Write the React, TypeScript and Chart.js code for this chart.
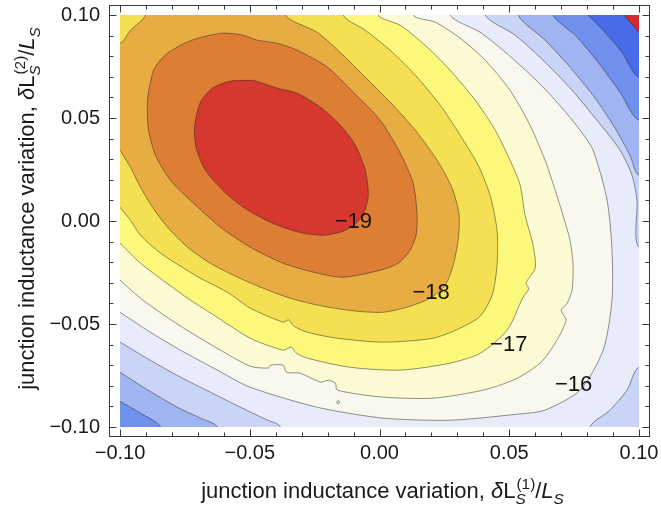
import React, { useEffect, useRef } from 'react';
import { Chart, registerables } from 'chart.js';

Chart.register(...registerables);

const FONT = '"Liberation Sans", Arial, Helvetica, sans-serif';
const E = 0.12; // beyond the plot range (clipped away)

const xTickValues = [-0.1, -0.05, 0, 0.05, 0.1];
const yTickValues = [-0.1, -0.05, 0, 0.05, 0.1];
const minorTickValues = [-0.1, -0.09, -0.08, -0.07, -0.06, -0.05, -0.04, -0.03, -0.02, -0.01, 0, 0.01, 0.02, 0.03, 0.04, 0.05, 0.06, 0.07, 0.08, 0.09, 0.1];

// contour levels, outermost first; each region is {f < level}
const contourLevels = [-14, -14.5, -15, -15.5, -16, -16.5, -17, -17.5, -18, -18.5, -19];
const bandColors = ['#7090ee', '#a0b4f2', '#c9d4f6', '#e8ecfa', '#f8f8ee', '#fbfad2', '#fcf87c', '#f4e052', '#e8ad42', '#de7e35', '#d5382f'];
const outerColor = '#4a6be8';
const cornerColor = '#d42b2b';

const regionM14 = [
  [0.0804, 0.100], [0.0869, 0.0916], [0.0935, 0.0819], [0.100, 0.0698],
  [E, 0.0698], [E, -E], [-E, -E], [-E, E], [0.0804, E]];

const regionM145 = [
  [-0.100, -0.0875], [-0.0921, -0.0933], [-0.0844, -0.100],
  [-0.0844, -E], [E, -E], [E, 0.0489],
  [0.100, 0.0489], [0.0927, 0.0625], [0.0842, 0.0771], [0.0754, 0.0902], [0.0669, 0.100],
  [0.0669, E], [-E, E], [-E, -0.0875]];

const regionM15 = [
  [-0.100, -0.0734], [-0.0910, -0.0807], [-0.0779, -0.0904], [-0.0690, -0.0957], [-0.0625, -0.100],
  [-0.0625, -E], [E, -E], [E, 0.0222],
  [0.100, 0.0222], [0.0965, 0.0319], [0.0908, 0.0450], [0.0831, 0.0596], [0.0734, 0.0747], [0.0638, 0.0878], [0.0534, 0.100],
  [0.0534, E], [-E, E], [-E, -0.0734]];

const regionM155 = [
  [-0.100, -0.0588], [-0.0883, -0.0676], [-0.0767, -0.0758], [-0.0652, -0.0831], [-0.0536, -0.0904], [-0.0440, -0.0962], [-0.0382, -0.100],
  [-0.0382, -E], [0.0811, -E],
  [0.0811, -0.100], [0.0888, -0.0918], [0.0954, -0.0821], [0.100, -0.0710],
  [E, -0.0710], [E, -0.0127],
  [0.100, -0.0127], [0.0992, 0.0101], [0.0973, 0.0222], [0.0927, 0.0344], [0.0838, 0.0489], [0.0742, 0.0635], [0.0638, 0.0771], [0.0523, 0.0902], [0.0407, 0.100],
  [0.0407, E], [-E, E], [-E, -0.0588]];

const regionM16 = [
  [-0.100, -0.0443], [-0.0883, -0.0540], [-0.0767, -0.0627], [-0.0632, -0.0719], [-0.0498, -0.0807], [-0.0240, -0.0904], [0.0014, -0.0957], [0.0272, -0.0967], [0.0530, -0.0938], [0.0638, -0.0918], [0.0773, -0.0821], [0.0862, -0.0627], [0.0896, -0.0384], [0.0896, -0.0142], [0.0877, 0.0101], [0.0823, 0.0344], [0.0773, 0.0441], [0.0704, 0.0548], [0.0619, 0.0664], [0.0503, 0.0800], [0.0388, 0.0916], [0.0272, 0.100],
  [0.0272, E], [-E, E], [-E, -0.0443]];

const regionM165 = [
  [-0.100, -0.0287], [-0.0921, -0.0375], [-0.0825, -0.0462], [-0.0729, -0.0540], [-0.0613, -0.0627], [-0.0498, -0.0705], [-0.0428, -0.0714], [-0.0421, -0.0700], [-0.0371, -0.0700], [-0.0359, -0.0734], [-0.0305, -0.0739], [-0.0228, -0.0782], [-0.0197, -0.0773], [-0.0170, -0.0787], [-0.0163, -0.0821], [0.0014, -0.0855], [0.0207, -0.0860], [0.0399, -0.0821], [0.0523, -0.0768], [0.0619, -0.0690], [0.0677, -0.0593], [0.0719, -0.0482], [0.0700, -0.0433], [0.0723, -0.0399], [0.0742, -0.0336], [0.0746, -0.0215], [0.0734, -0.0093], [0.0707, 0.0028], [0.0677, 0.0150], [0.0638, 0.0295], [0.0580, 0.0465], [0.0503, 0.0635], [0.0407, 0.0781], [0.0311, 0.0887], [0.0215, 0.0965], [0.0130, 0.100],
  [0.0130, E], [-E, E], [-E, -0.0287]];

const regionM17 = [
  [-0.100, -0.0108], [-0.0921, -0.0205], [-0.0825, -0.0297], [-0.0729, -0.0384], [-0.0632, -0.0462], [-0.0498, -0.0569], [-0.0371, -0.0627], [-0.0340, -0.0612], [-0.0322, -0.0640], [-0.0278, -0.0666], [-0.0113, -0.0710], [0.0080, -0.0724], [0.0272, -0.0690], [0.0388, -0.0642], [0.0492, -0.0530], [0.0553, -0.0370], [0.0575, -0.0330], [0.0565, -0.0300], [0.0600, -0.0229], [0.0592, -0.0117], [0.0561, 0.0028], [0.0542, 0.0174], [0.0503, 0.0295], [0.0446, 0.0441], [0.0369, 0.0586], [0.0272, 0.0732], [0.0176, 0.0853], [0.0080, 0.0950], [-0.0005, 0.100],
  [-0.0005, E], [-E, E], [-E, -0.0108]];

const regionM175 = [
  [-0.100, 0.0067], [-0.0960, 0.0004], [-0.0921, -0.0069], [-0.0844, -0.0156], [-0.0767, -0.0219], [-0.0690, -0.0278], [-0.0586, -0.0346], [-0.0498, -0.0423], [-0.0371, -0.0491], [-0.0350, -0.0480], [-0.0330, -0.0510], [-0.0278, -0.0540], [-0.0163, -0.0569], [0.0014, -0.0588], [0.0207, -0.0569], [0.0311, -0.0520], [0.0388, -0.0462], [0.0434, -0.0360], [0.0453, -0.0215], [0.0453, -0.0045], [0.0426, 0.0125], [0.0380, 0.0271], [0.0311, 0.0416], [0.0234, 0.0562], [0.0138, 0.0708], [0.0041, 0.0829], [-0.0055, 0.0926], [-0.0140, 0.100],
  [-0.0140, E], [-E, E], [-E, 0.0067]];

const regionM18 = [
  [-0.100, 0.0344], [-0.0960, 0.0261], [-0.0921, 0.0164], [-0.0875, 0.0067], [-0.0817, -0.0030], [-0.0740, -0.0127], [-0.0652, -0.0205], [-0.0555, -0.0268], [-0.0459, -0.0321], [-0.0344, -0.0375], [-0.0217, -0.0414], [-0.0086, -0.0438], [0.0014, -0.0443], [0.0107, -0.0418], [0.0195, -0.0375], [0.0253, -0.0312], [0.0284, -0.0215], [0.0303, -0.0093], [0.0307, 0.0028], [0.0280, 0.0159], [0.0222, 0.0295], [0.0138, 0.0441], [0.0041, 0.0577], [-0.0055, 0.0698], [-0.0140, 0.0805], [-0.0240, 0.0916], [-0.0363, 0.100],
  [-0.0363, E], [-0.0902, E],
  [-0.0902, 0.100], [-0.0960, 0.0926], [-0.100, 0.0863],
  [-E, 0.0863], [-E, 0.0344]];

const regionM185 = [
  [-0.0817, 0.0815], [-0.0767, 0.0853], [-0.0702, 0.0887], [-0.0602, 0.0912], [-0.0525, 0.0902], [-0.0471, 0.0878], [-0.0394, 0.0863], [-0.0317, 0.0829], [-0.0201, 0.0747], [-0.0101, 0.0625], [0.0003, 0.0489], [0.0080, 0.0329], [0.0130, 0.0183], [0.0145, 0.0028], [0.0141, -0.0069], [0.0118, -0.0142], [0.0072, -0.0205], [0.0003, -0.0239], [-0.0140, -0.0273], [-0.0240, -0.0253], [-0.0371, -0.0205], [-0.0498, -0.0127], [-0.0613, -0.0030], [-0.0729, 0.0101], [-0.0806, 0.0198], [-0.0863, 0.0319], [-0.0890, 0.0441], [-0.0894, 0.0586], [-0.0871, 0.0732], [-0.0844, 0.0781], [-0.0817, 0.0815]];

const regionM19 = [
  [-0.0486, 0.0683], [-0.0394, 0.0645], [-0.0317, 0.0620], [-0.0228, 0.0552], [-0.0151, 0.0465], [-0.0093, 0.0368], [-0.0055, 0.0247], [-0.0043, 0.0125], [-0.0059, 0.0043], [-0.0086, -0.0006], [-0.0140, -0.0050], [-0.0217, -0.0069], [-0.0313, -0.0054], [-0.0421, -0.0006], [-0.0525, 0.0067], [-0.0605, 0.0150], [-0.0671, 0.0247], [-0.0706, 0.0353], [-0.0713, 0.0455], [-0.0690, 0.0577], [-0.0644, 0.0645], [-0.0575, 0.0679], [-0.0486, 0.0683]];

const cornerRegion = [[0.0942, 0.100], [0.100, 0.0916], [E, 0.0916], [E, E], [0.0942, E], [0.0942, 0.100]];
const islandPoints = [[-0.0159, -0.0880]];

const regions = [regionM14, regionM145, regionM15, regionM155, regionM16, regionM165, regionM17, regionM175, regionM18, regionM185, regionM19];

const labelTexts = ['\u221219', '\u221218', '\u221217', '\u221216'];
const labelXs = [-0.0101, 0.0199, 0.0498, 0.0748];
const labelYs = [-0.0003, -0.0348, -0.0603, -0.0797];

type Seg = { t?: string; it?: boolean; sub?: string; sup?: string };
const xTitle: Seg[] = [{ t: 'junction inductance variation, ' }, { t: '\u03b4', it: true }, { t: 'L' }, { sub: 'S', sup: '(1)' }, { t: '/' }, { t: 'L', it: true }, { sub: 'S' }];
const yTitle: Seg[] = [{ t: 'junction inductance variation, ' }, { t: '\u03b4', it: true }, { t: 'L' }, { sub: 'S', sup: '(2)' }, { t: '/' }, { t: 'L', it: true }, { sub: 'S' }];

const LINE_COLOR = 'rgba(30,30,30,0.6)';
const TEXT_COLOR = '#1a1a1a';
const TICK_SIZE = 20;
const TITLE_SIZE = 22;
const LABEL_SIZE = 22;

const fmt = (v: number) => {
  const s = Math.abs(v) < 1e-9 ? '0.00' : v.toFixed(2);
  return s.replace('-', '\u2212');
};

function drawRich(ctx: CanvasRenderingContext2D, segs: Seg[], size: number, cx: number, baseline: number) {
  const font = (s: number, it?: boolean) => `${it ? 'italic ' : ''}${s}px ${FONT}`;
  const small = size * 0.7;
  const widths = segs.map((seg) => {
    if (seg.t !== undefined) {
      ctx.font = font(size, seg.it);
      return ctx.measureText(seg.t).width;
    }
    let w = 0;
    if (seg.sub) { ctx.font = font(small, true); w = Math.max(w, ctx.measureText(seg.sub).width); }
    if (seg.sup) { ctx.font = font(small, false); w = Math.max(w, ctx.measureText(seg.sup).width); }
    return w + 1;
  });
  const total = widths.reduce((a, b) => a + b, 0);
  let x = cx - total / 2;
  ctx.textAlign = 'left';
  ctx.textBaseline = 'alphabetic';
  ctx.fillStyle = TEXT_COLOR;
  segs.forEach((seg, i) => {
    if (seg.t !== undefined) {
      ctx.font = font(size, seg.it);
      ctx.fillText(seg.t, x, baseline);
    } else {
      if (seg.sub) { ctx.font = font(small, true); ctx.fillText(seg.sub, x, baseline + size * 0.28); }
      if (seg.sup) { ctx.font = font(small, false); ctx.fillText(seg.sup, x + 1, baseline - size * 0.42); }
    }
    x += widths[i];
  });
}

const backgroundPlugin = {
  id: 'plotBackground',
  beforeDatasetsDraw(chart: any) {
    const { ctx, chartArea: a } = chart;
    ctx.save();
    ctx.fillStyle = outerColor;
    ctx.fillRect(a.left, a.top, a.right - a.left, a.bottom - a.top);
    ctx.restore();
  },
};

const decorPlugin = {
  id: 'decor',
  afterDatasetsDraw(chart: any) {
    const { ctx, scales } = chart;
    ctx.save();
    ctx.fillStyle = '#111';
    ctx.font = `${LABEL_SIZE}px ${FONT}`;
    ctx.textAlign = 'center';
    ctx.textBaseline = 'middle';
    labelTexts.forEach((t, i) => {
      ctx.fillText(t, scales.x.getPixelForValue(labelXs[i]), scales.y.getPixelForValue(labelYs[i]));
    });
    ctx.restore();
  },
  afterDraw(chart: any) {
    const { ctx, chartArea: a, scales } = chart;
    const L = Math.round(a.left - 10) - 0.5;
    const R = Math.round(a.right + 10) + 0.5;
    const T = Math.round(a.top - 10) + 0.5;
    const B = Math.round(a.bottom + 9) + 0.5;
    ctx.save();
    ctx.strokeStyle = '#3a3a3a';
    ctx.lineWidth = 1;
    ctx.strokeRect(L, T, R - L, B - T);
    ctx.beginPath();
    minorTickValues.forEach((v) => {
      const major = Math.abs(Math.round(v * 100) % 5) === 0;
      const len = major ? 7 : 4;
      const px = Math.round(scales.x.getPixelForValue(v)) + 0.5;
      ctx.moveTo(px, B); ctx.lineTo(px, B - len);
      ctx.moveTo(px, T); ctx.lineTo(px, T + len);
      const py = Math.round(scales.y.getPixelForValue(v)) + 0.5;
      ctx.moveTo(L, py); ctx.lineTo(L + len, py);
      ctx.moveTo(R, py); ctx.lineTo(R - len, py);
    });
    ctx.stroke();
    // axis titles
    drawRich(ctx, xTitle, TITLE_SIZE, 383, 498);
    ctx.save();
    ctx.translate(34, 208);
    ctx.rotate(-Math.PI / 2);
    drawRich(ctx, yTitle, TITLE_SIZE, 0, 0);
    ctx.restore();
    ctx.restore();
  },
};

export default function App() {
  const ref = useRef<HTMLCanvasElement | null>(null);
  useEffect(() => {
    if (!ref.current) return;
    const toPts = (arr: number[][]) => arr.map(([x, y]) => ({ x, y }));
    const n = regions.length;
    const datasets: any[] = regions.map((r, i) => ({
      label: `f < ${contourLevels[i]}`,
      data: toPts(r),
      showLine: true,
      fill: 'shape',
      backgroundColor: bandColors[i],
      borderColor: LINE_COLOR,
      borderWidth: 0.8,
      pointRadius: 0,
      pointHoverRadius: 0,
      tension: 0.25,
      capBezierPoints: false,
      order: n + 1 - i,
    }));
    datasets.push({
      label: 'corner',
      data: toPts(cornerRegion),
      showLine: true,
      fill: 'shape',
      backgroundColor: cornerColor,
      borderColor: LINE_COLOR,
      borderWidth: 0.8,
      pointRadius: 0,
      tension: 0,
      order: 1,
    });
    datasets.push({
      label: 'island',
      data: toPts(islandPoints),
      showLine: false,
      pointRadius: 1.4,
      pointBackgroundColor: 'rgba(0,0,0,0)',
      pointBorderColor: LINE_COLOR,
      pointBorderWidth: 0.8,
      order: 0,
    });
    const chart = new Chart(ref.current, {
      type: 'scatter',
      data: { datasets },
      plugins: [backgroundPlugin, decorPlugin],
      options: {
        responsive: false,
        devicePixelRatio: 1,
        animation: false,
        layout: { padding: { left: 0, right: 22, top: 15, bottom: 0 } },
        plugins: { legend: { display: false }, tooltip: { enabled: false }, filler: { propagate: false } },
        events: [],
        scales: {
          x: {
            type: 'linear', min: -0.1, max: 0.1,
            grid: { display: false, drawTicks: false },
            border: { display: false },
            afterBuildTicks: (s: any) => { s.ticks = xTickValues.map((v) => ({ value: v })); },
            afterFit: (s: any) => { s.height = 92; s.paddingLeft = 0; s.paddingRight = 0; },
            ticks: { padding: 14, color: TEXT_COLOR, font: { family: FONT, size: TICK_SIZE }, maxRotation: 0, autoSkip: false, callback: (v: any) => fmt(Number(v)) },
          },
          y: {
            type: 'linear', min: -0.1, max: 0.1,
            grid: { display: false, drawTicks: false },
            border: { display: false },
            afterBuildTicks: (s: any) => { s.ticks = yTickValues.map((v) => ({ value: v })); },
            afterFit: (s: any) => { s.width = 120; s.paddingTop = 0; s.paddingBottom = 0; },
            ticks: { padding: 20, color: TEXT_COLOR, font: { family: FONT, size: TICK_SIZE }, autoSkip: false, callback: (v: any) => fmt(Number(v)) },
          },
        },
      } as any,
    });
    return () => chart.destroy();
  }, []);
  return (
    <div style={{ position: 'fixed', left: 0, top: 0, width: 661, height: 519, background: '#fff' }}>
      <canvas ref={ref} width={661} height={519} style={{ width: 661, height: 519, display: 'block' }} />
    </div>
  );
}
